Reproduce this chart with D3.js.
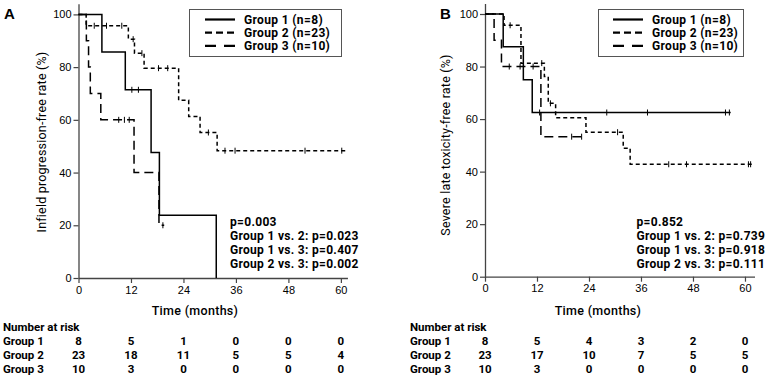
<!DOCTYPE html>
<html>
<head>
<meta charset="utf-8">
<script src="https://cdn.jsdelivr.net/npm/d3@7"></script>
<style>
  body { margin: 0; background: #fff; }
  svg { display: block; }
  .tick text { font-family: "Liberation Sans", Arial, sans-serif; font-size: 11px; fill: #000; }
  .kr { font-family: Roboto, "Liberation Sans", sans-serif; }
</style>
</head>
<body>
<svg id="chart" width="765" height="379"></svg>
<script>
// ---- data ----
const timeTicks = [0, 12, 24, 36, 48, 60];
const pctTicks = [0, 20, 40, 60, 80, 100];
const legendLabels = ["Group 1 (n=8)", "Group 2 (n=23)", "Group 3 (n=10)"];
const riskLabels = ["Group 1", "Group 2", "Group 3"];

// panel A: infield progression-free rate, steps are [month, rate after event]
const aGroup1Steps = [[0, 100], [5.35, 85.7], [10.7, 71.4], [16.6, 47.6], [18.5, 23.8], [31.5, 0]];
const aGroup1Cens = [12.2, 13.7];
const aGroup1End = 31.5;
const aGroup2Steps = [[0, 100], [1.75, 95.7], [11.4, 90.6], [12.8, 85.3], [15.0, 79.6], [22.9, 67.4], [25.2, 61.3], [27.8, 55.2], [31.7, 48.3]];
const aGroup2Cens = [3.6, 6.4, 9.9, 12.5, 14.5, 18.3, 20.4, 29.7, 33.5, 35.8, 51.8, 60.2];
const aGroup2End = 61.1;
const aGroup3Steps = [[0, 100], [1.8, 90], [2.3, 80], [2.7, 70], [5.1, 60], [12.7, 40], [18.4, 20]];
const aGroup3Cens = [9.2, 10.5, 11.6, 19.3];
const aGroup3End = 19.6;
const aPvalues = ["p=0.003", "Group 1 vs. 2: p=0.023", "Group 1 vs. 3: p=0.407", "Group 2 vs. 3: p=0.002"];
const aRisk1 = [8, 5, 1, 0, 0, 0];
const aRisk2 = [23, 18, 11, 5, 5, 4];
const aRisk3 = [10, 3, 0, 0, 0, 0];

// panel B: severe late toxicity-free rate
const bGroup1Steps = [[0, 100], [4.2, 87.5], [8.85, 75], [10.9, 62.5]];
const bGroup1Cens = [12.6, 28.1, 37.5, 55.5, 56.4];
const bGroup1End = 56.7;
const bGroup2Steps = [[0, 100], [4.4, 95.7], [8.3, 81.3], [13.7, 76.2], [14.6, 66.0], [16.3, 60.5], [23.3, 55.0], [31.9, 48.9], [33.5, 42.8]];
const bGroup2Cens = [5.8, 13.1, 15.1, 30.6, 42.4, 46.5, 60.8, 61.3];
const bGroup2End = 61.9;
const bGroup3Steps = [[0, 100], [2.1, 90], [3.8, 80], [12.9, 53.3]];
const bGroup3Cens = [5.6, 8.1, 11.1, 20.0, 22.3];
const bGroup3End = 22.3;
const bPvalues = ["p=0.852", "Group 1 vs. 2: p=0.739", "Group 1 vs. 3: p=0.918", "Group 2 vs. 3: p=0.111"];
const bRisk1 = [8, 5, 4, 3, 2, 0];
const bRisk2 = [23, 17, 10, 7, 5, 5];
const bRisk3 = [10, 3, 0, 0, 0, 0];

const dashes = [null, "4,3", "9,5"];
const svg = d3.select("#chart");

function drawPanel(p) {
	const x = d3.scaleLinear().domain([0, p.xMax]).range([p.left, p.left + p.xMax * p.ppm]);
	const y = d3.scaleLinear().domain([0, 104]).range([p.bottom, p.bottom - 104 * p.ppu]);
	const g = svg.append("g");

	// axes
	const xa = g.append("g")
		.attr("transform", `translate(0,${p.bottom})`)
		.call(d3.axisBottom(x).tickValues(timeTicks).tickSize(5).tickSizeOuter(0).tickPadding(3));
	const ya = g.append("g")
		.attr("transform", `translate(${p.left},0)`)
		.call(d3.axisLeft(y).tickValues(pctTicks).tickSize(5).tickSizeOuter(0).tickPadding(2));
	[xa, ya].forEach(a => {
		a.select(".domain").attr("stroke", "#444").attr("stroke-width", 1.3);
		a.selectAll(".tick line").attr("stroke", "#444").attr("stroke-width", 1.2);
	});

	// curves
	const line = d3.line().x(d => x(d[0])).y(d => y(d[1])).curve(d3.curveStepAfter);
	p.groups.forEach((gr, i) => {
		const pts = gr.steps.concat([[gr.end, gr.steps[gr.steps.length - 1][1]]]);
		g.append("path")
			.attr("d", line(pts))
			.attr("fill", "none")
			.attr("stroke", "#000")
			.attr("stroke-width", 1.5)
			.attr("stroke-dasharray", dashes[i]);
		// censor marks
		g.selectAll(null)
			.data(gr.cens)
			.join("line")
			.attr("x1", c => x(c)).attr("x2", c => x(c))
			.attr("y1", c => y(rateAt(gr.steps, c)) - 3)
			.attr("y2", c => y(rateAt(gr.steps, c)) + 3)
			.attr("stroke", "#000")
			.attr("stroke-width", 1);
	});

	// panel letter
	g.append("text")
		.attr("x", p.letterX).attr("y", 19)
		.style("font-family", "Liberation Sans, Arial, sans-serif")
		.style("font-weight", "bold").style("font-size", "15px")
		.text(p.letter);

	// y title
	g.append("text")
		.attr("class", "kr")
		.attr("transform", `translate(${p.yTitleX},${p.yTitleY}) rotate(-90)`)
		.attr("text-anchor", "middle")
		.style("font-size", "12.5px")
		.style("letter-spacing", "0.2px")
		.text(p.yTitle);

	// x title
	g.append("text")
		.attr("class", "kr")
		.attr("x", p.xTitleX).attr("y", 315)
		.attr("text-anchor", "middle")
		.style("font-size", "12.5px").style("font-weight", 500)
		.style("letter-spacing", "0.3px")
		.text("Time (months)");

	// legend
	const lg = g.append("g").attr("transform", `translate(${p.legX},9)`);
	lg.append("rect")
		.attr("x", 0.5).attr("y", 0.5)
		.attr("width", p.legW).attr("height", 47)
		.attr("fill", "#fff").attr("stroke", "#555").attr("stroke-width", 1);
	legendLabels.forEach((lab, i) => {
		const ly = 10.5 + i * 13.2;
		lg.append("line")
			.attr("x1", p.legLine).attr("x2", p.legLine + 30).attr("y1", ly).attr("y2", ly)
			.attr("stroke", "#000").attr("stroke-width", 2.2)
			.attr("stroke-dasharray", i === 1 ? "7,4" : i === 2 ? "11,8" : null);
		lg.append("text")
			.attr("class", "kr")
			.attr("x", p.legLine + 39).attr("y", ly + 4.2)
			.style("font-size", "12px").style("font-weight", "bold")
			.style("letter-spacing", "0.35px")
			.text(lab);
	});

	// p-values
	g.selectAll(null)
		.data(p.pvals)
		.join("text")
		.attr("class", "kr")
		.attr("x", p.pX)
		.attr("y", (d, i) => 226 + i * 14.1)
		.style("font-size", "12px").style("font-weight", "bold")
		.style("letter-spacing", "0.3px")
		.text(d => d);

	// number at risk
	g.append("text")
		.attr("class", "kr")
		.attr("x", p.riskX).attr("y", 331)
		.style("font-size", "11.5px").style("font-weight", "bold")
		.text("Number at risk");
	p.risk.forEach((row, i) => {
		const ry = 345 + i * 14.2;
		g.append("text")
			.attr("class", "kr")
			.attr("x", p.riskX).attr("y", ry)
			.style("font-size", "11.5px").style("font-weight", "bold")
			.text(riskLabels[i]);
		g.selectAll(null)
			.data(row)
			.join("text")
			.attr("class", "kr")
			.attr("x", (d, j) => x(timeTicks[j]))
			.attr("y", ry)
			.attr("text-anchor", "middle")
			.style("font-size", "11.5px").style("font-weight", "bold")
			.text(d => d);
	});
}

function rateAt(steps, t) {
	let r = steps[0][1];
	steps.forEach(s => { if (s[0] <= t) r = s[1]; });
	return r;
}

drawPanel({
	letter: "A", letterX: 4,
	left: 78.5, ppm: 4.373, xMax: 61.5,
	bottom: 278, ppu: 2.636,
	yTitle: "Infield progression-free rate (%)", yTitleX: 46, yTitleY: 142,
	xTitleX: 195,
	legX: 189, legW: 152, legLine: 16,
	pX: 230, pvals: aPvalues,
	riskX: 3,
	groups: [
		{steps: aGroup1Steps, cens: aGroup1Cens, end: aGroup1End},
		{steps: aGroup2Steps, cens: aGroup2Cens, end: aGroup2End},
		{steps: aGroup3Steps, cens: aGroup3Cens, end: aGroup3End}
	],
	risk: [aRisk1, aRisk2, aRisk3]
});

drawPanel({
	letter: "B", letterX: 440,
	left: 485, ppm: 4.333, xMax: 62.2,
	bottom: 276.7, ppu: 2.627,
	yTitle: "Severe late toxicity-free rate (%)", yTitleX: 450, yTitleY: 145,
	xTitleX: 598,
	legX: 598, legW: 145, legLine: 15,
	pX: 636.5, pvals: bPvalues,
	riskX: 410,
	groups: [
		{steps: bGroup1Steps, cens: bGroup1Cens, end: bGroup1End},
		{steps: bGroup2Steps, cens: bGroup2Cens, end: bGroup2End},
		{steps: bGroup3Steps, cens: bGroup3Cens, end: bGroup3End}
	],
	risk: [bRisk1, bRisk2, bRisk3]
});
</script>
</body>
</html>
